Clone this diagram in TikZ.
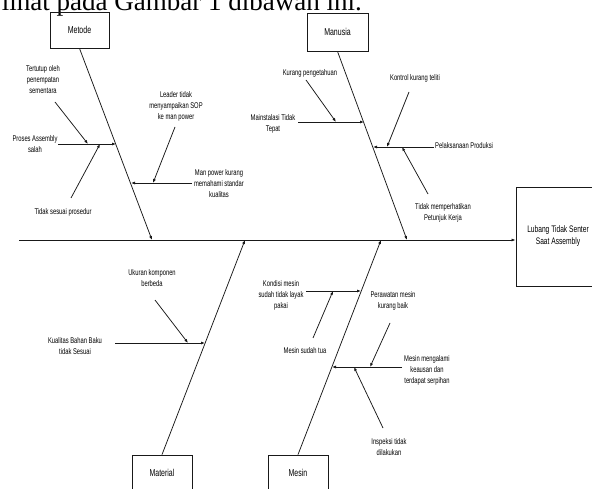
\documentclass[tikz,border=0pt]{standalone}
\usepackage{fontspec}
\setmainfont{Liberation Serif}
\newfontfamily\lbl[FakeStretch=0.7]{Liberation Sans}
\usetikzlibrary{arrows.meta}
\tikzset{
  ln/.style={draw=black!90, line width=0.75pt},
  arr/.style={ln, -{Latex[length=4pt,width=3pt]}},
  sub/.style={font=\lbl\fontsize{8.3}{11}\selectfont, align=center, text=black, inner sep=0pt},
  catbox/.style={draw=black!90, line width=0.8pt, minimum width=60pt, minimum height=36pt, inner sep=0pt, font=\lbl\fontsize{10}{12}\selectfont, text=black},
}
\begin{document}
\begin{tikzpicture}[x=1pt,y=-1pt]
\useasboundingbox (0,0) rectangle (592,489);
\clip (0,0) rectangle (592,489);
\fill[white] (0,0) rectangle (592,489);
% header text (cut off at the top, as in the reference)
\node[anchor=base east, inner sep=0pt, font=\fontsize{27}{30}\selectfont] (hdr) at (362,11) {lihat pada Gambar  1 dibawah ini.};
% boxes
\node[catbox, minimum width=59pt] (metode) at (79.5,30) {Metode};
\node[catbox, minimum width=61pt, minimum height=38pt] (manusia) at (337.5,32) {Manusia};
\node[catbox] (material) at (162,473) {Material};
\node[catbox] (mesin) at (298,473) {Mesin};
\node[draw=black!90, line width=0.8pt, minimum width=84pt, minimum height=99pt, inner sep=0pt,
      font=\lbl\fontsize{9.5}{12}\selectfont, align=center, text=black] (effect) at (558,236.5)
      {Lubang Tidak Senter\\Saat Assembly};
% spine
\coordinate (tail) at (19,240);
\draw[arr] (tail) -- (effect.west |- tail);
% category bones
\coordinate (mA) at (152,240);
\coordinate (nA) at (407,240);
\coordinate (tA) at (245,240);
\coordinate (sA) at (381,240);
\draw[arr] (metode.south) -- (mA);
\draw[arr] (manusia.south) -- (nA);
\draw[arr] (material.north) -- (tA);
\draw[arr] (mesin.north) -- (sA);
% ---- Metode causes
\node[sub] (tertutup) at (43,80) {Tertutup oleh\\penempatan\\sementara};
\node[sub] (proses) at (35,144) {Proses Assembly\\salah};
\node[sub] (tidaksesuai) at (63,212) {Tidak sesuai prosedur};
\node[sub] (leader) at (176,106) {Leader tidak\\menyampaikan SOP\\ke man power};
\node[sub] (manpower) at (219,184) {Man power kurang\\memahami standar\\kualitas};
\coordinate (p0) at (58,144); \coordinate (p1) at (116,144);
\draw[arr] (p0) -- (p1);
\coordinate (t0) at (55,102); \coordinate (t1) at (88,144);
\draw[arr] (t0) -- (t1);
\coordinate (s0) at (71,198); \coordinate (s1) at (100,144);
\draw[arr] (s0) -- (s1);
\coordinate (m0) at (192,183); \coordinate (m1) at (131,183);
\draw[arr] (m0) -- (m1);
\coordinate (l0) at (175,127); \coordinate (l1) at (153,183);
\draw[arr] (l0) -- (l1);
% ---- Manusia causes
\node[sub] (kurangp) at (310,73) {Kurang pengetahuan};
\node[sub] (mainst) at (273,124) {Mainstalasi Tidak\\Tepat};
\node[sub] (kontrol) at (415,78) {Kontrol kurang teliti};
\node[sub, anchor=west] (pelaks) at (435,146) {Pelaksanaan Produksi};
\node[sub] (tidakmem) at (443,213) {Tidak memperhatikan\\Petunjuk Kerja};
\coordinate (a0) at (298,122); \coordinate (a1) at (364,122);
\draw[arr] (a0) -- (a1);
\coordinate (k0) at (306,80); \coordinate (k1) at (336,122);
\draw[arr] (k0) -- (k1);
\coordinate (b0) at (434,147); \coordinate (b1) at (373,147);
\draw[arr] (b0) -- (b1);
\coordinate (c0) at (409,92); \coordinate (c1) at (387,147);
\draw[arr] (c0) -- (c1);
\coordinate (d0) at (428,194); \coordinate (d1) at (402,147);
\draw[arr] (d0) -- (d1);
% ---- Material causes
\node[sub] (ukuran) at (152,278) {Ukuran komponen\\berbeda};
\node[sub] (kualitas) at (75,346) {Kualitas Bahan Baku\\tidak Sesuai};
\coordinate (q0) at (115,343); \coordinate (q1) at (205,343);
\draw[arr] (q0) -- (q1);
\coordinate (u0) at (155,300); \coordinate (u1) at (188,343);
\draw[arr] (u0) -- (u1);
% ---- Mesin causes
\node[sub] (kondisi) at (281,295) {Kondisi mesin\\sudah tidak layak\\pakai};
\node[sub] (tua) at (305,351) {Mesin sudah tua};
\node[sub] (perawatan) at (393,301) {Perawatan mesin\\kurang baik};
\node[sub] (keausan) at (427,370) {Mesin mengalami\\keausan dan\\terdapat serpihan};
\node[sub] (inspeksi) at (389,447) {Inspeksi tidak\\dilakukan};
\coordinate (e0) at (306,291); \coordinate (e1) at (361,291);
\draw[arr] (e0) -- (e1);
\coordinate (f0) at (313,338); \coordinate (f1) at (333,291);
\draw[arr] (f0) -- (f1);
\coordinate (g0) at (402,367); \coordinate (g1) at (332,367);
\draw[arr] (g0) -- (g1);
\coordinate (h0) at (390,323); \coordinate (h1) at (370,367);
\draw[arr] (h0) -- (h1);
\coordinate (i0) at (383,428); \coordinate (i1) at (354,367);
\draw[arr] (i0) -- (i1);
\end{tikzpicture}
\end{document}
